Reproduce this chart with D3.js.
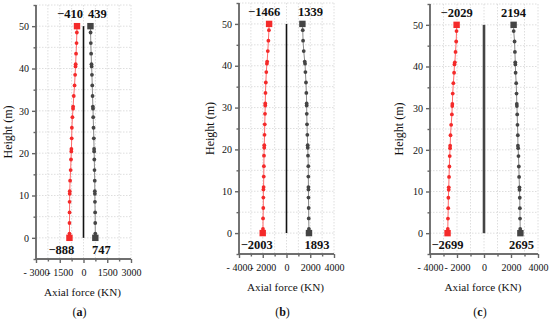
<!DOCTYPE html>
<html>
<head>
<meta charset="utf-8">
<script src="https://cdn.jsdelivr.net/npm/d3@7"></script>
<style>
  body { margin: 0; background: white; }
  svg text { font-family: "Liberation Serif", "Times New Roman", serif; fill: #111; }
</style>
</head>
<body>
<script>
// heights of the sampled points (m)
let heights = [0, 1, 3.5, 6, 8.5, 10.4, 11, 13.5, 16, 18.5, 20.4, 21, 23.5, 26, 28.5,
  30.5, 31, 33.5, 36, 38.5, 40.5, 41, 43.5, 46, 48.5, 50]

// axial force (KN), one value per height
let redA = [-888, -886, -884, -880, -878, -872, -868, -846, -812, -790, -770, -764, -745, -735, -700,
  -660, -655, -615, -565, -530, -505, -495, -470, -440, -420, -410]
let blackA = [747, 745, 740, 735, 722, 718, 715, 710, 695, 682, 672, 668, 652, 632, 612,
  600, 592, 572, 552, 532, 516, 504, 482, 462, 448, 439]
let redB = [-2003, -1980, -1975, -1955, -1950, -1945, -1930, -1915, -1905, -1895, -1875, -1870, -1850, -1830, -1810,
  -1790, -1790, -1770, -1740, -1700, -1650, -1630, -1575, -1525, -1480, -1466]
let blackB = [1893, 1888, 1872, 1865, 1850, 1848, 1845, 1840, 1836, 1810, 1790, 1783, 1755, 1728, 1705,
  1700, 1698, 1672, 1640, 1592, 1562, 1535, 1452, 1396, 1368, 1339]
let redC = [-2699, -2680, -2670, -2650, -2640, -2615, -2610, -2590, -2565, -2540, -2512, -2508, -2480, -2432, -2378,
  -2352, -2345, -2318, -2270, -2215, -2190, -2160, -2110, -2060, -2035, -2029]
let blackC = [2695, 2682, 2670, 2658, 2650, 2630, 2625, 2600, 2580, 2555, 2530, 2512, 2505, 2480, 2460,
  2436, 2430, 2410, 2385, 2340, 2322, 2315, 2290, 2265, 2200, 2194]

let xTicksA = [-3000, -1500, 0, 1500, 3000]
let xTicksBC = [-4000, -2000, 0, 2000, 4000]
let yTicks = [0, 10, 20, 30, 40, 50]
let yMinor = [-5, 5, 15, 25, 35, 45, 55]

let panels = [
  { tag: 'a', red: redA, black: blackA, ticks: xTicksA, left: 36, right: 131, top: 5, bottom: 259,
    titleX: 8, zeroW: 1.6, dx: [-7, 7, -8, 6] },
  { tag: 'b', red: redB, black: blackB, ticks: xTicksBC, left: 239, right: 334, top: 3, bottom: 254,
    titleX: 210, zeroW: 1.6, dx: [-5, 8, -6, 8] },
  { tag: 'c', red: redC, black: blackC, ticks: xTicksBC, left: 430, right: 538, top: 4, bottom: 254,
    titleX: 399, zeroW: 2.6, dx: [0, 0, 0, 1] }
]

let svg = d3.select("body").append("svg")
  .attr("width", 550)
  .attr("height", 323)

function fmt(d) {
  return d < 0 ? "- " + Math.abs(d) : d
}

function drawPanel(p) {
  let g = svg.append("g")
  let max = p.ticks[p.ticks.length - 1]
  let x = d3.scaleLinear().domain([-max, max]).range([p.left, p.right])
  let y = d3.scaleLinear().domain([-5, 55]).range([p.bottom, p.top])
  let step = p.ticks[1] - p.ticks[0]
  let xMinor = p.ticks.slice(0, -1).map(d => d + step / 2)

  // grid
  let grid = g.append("g").attr("stroke", "#d6d6d6").attr("stroke-width", 0.8)
    .attr("stroke-dasharray", "1.5,1.5")
  grid.selectAll("line.v").data(p.ticks.slice(1).concat(xMinor)).enter().append("line")
    .attr("x1", d => x(d)).attr("x2", d => x(d))
    .attr("y1", y(55)).attr("y2", y(-5))
  grid.selectAll("line.h").data(yTicks.concat(yMinor.slice(1))).enter().append("line")
    .attr("x1", x(-max)).attr("x2", x(max))
    .attr("y1", d => y(d)).attr("y2", d => y(d))

  // axes
  let xAxis = g.append("g").attr("transform", `translate(0,${p.bottom})`)
    .call(d3.axisBottom(x).tickValues(p.ticks).tickSize(4).tickPadding(6).tickFormat(fmt))
  let xAxisMinor = g.append("g").attr("transform", `translate(0,${p.bottom})`)
    .call(d3.axisBottom(x).tickValues(xMinor).tickSize(2.5).tickFormat(""))
  let yAxis = g.append("g").attr("transform", `translate(${p.left},0)`)
    .call(d3.axisLeft(y).tickValues(yTicks).tickSize(4).tickPadding(3))
  let yAxisMinor = g.append("g").attr("transform", `translate(${p.left},0)`)
    .call(d3.axisLeft(y).tickValues(yMinor).tickSize(2.5).tickFormat(""))
  for (let a of [xAxis, xAxisMinor, yAxis, yAxisMinor]) {
    a.selectAll("path, line").attr("stroke", "#666").attr("stroke-width", 1.4)
    a.select("path").attr("d", a === xAxis || a === xAxisMinor
      ? `M${p.left},0H${p.right}` : `M0,${p.top}V${p.bottom}`)
    a.selectAll("text").attr("font-size", 10).attr("font-family", "Liberation Serif").attr("fill", "#222")
  }

  // zero line
  g.append("line")
    .attr("x1", x(0)).attr("x2", x(0))
    .attr("y1", y(0)).attr("y2", y(50))
    .attr("stroke", p.tag === 'c' ? "#444" : "#111")
    .attr("stroke-width", p.zeroW)

  // series
  let series = [
    { vals: p.red, line: "#ff6a6a", fill: "#f42a2a" },
    { vals: p.black, line: "#8a8a8a", fill: "#444" }
  ]
  for (let s of series) {
    let pts = heights.map((h, i) => [s.vals[i], h])
    g.append("path")
      .datum(pts)
      .attr("fill", "none")
      .attr("stroke", s.line)
      .attr("stroke-width", 1)
      .attr("d", d3.line().x(d => x(d[0])).y(d => y(d[1])))
    g.selectAll(null).data(pts.slice(1, -1)).enter().append("circle")
      .attr("cx", d => x(d[0])).attr("cy", d => y(d[1]))
      .attr("r", 1.9)
      .attr("fill", s.fill)
    g.selectAll(null).data([pts[0], pts[pts.length - 1]]).enter().append("rect")
      .attr("x", d => x(d[0]) - 3.2).attr("y", d => y(d[1]) - 3.2)
      .attr("width", 6.4).attr("height", 6.4)
      .attr("fill", s.fill)
  }

  // end value labels
  let last = heights.length - 1
  let labels = [
    [p.red[last], 50, p.dx[0], -8],
    [p.black[last], 50, p.dx[1], -8],
    [p.red[0], 0, p.dx[2], 16],
    [p.black[0], 0, p.dx[3], 16]
  ]
  g.selectAll("text.val").data(labels).enter().append("text")
    .attr("x", d => x(d[0]) + d[2])
    .attr("y", d => y(d[1]) + d[3])
    .attr("text-anchor", "middle")
    .attr("font-size", 12.5)
    .attr("font-weight", "bold")
    .text(d => d[0] < 0 ? "\u2212" + Math.abs(d[0]) : d[0])

  // titles
  g.append("text")
    .attr("transform", `translate(${p.titleX},${(p.top + p.bottom) / 2}) rotate(-90)`)
    .attr("dy", "0.35em")
    .attr("text-anchor", "middle")
    .attr("font-size", 12)
    .text("Height (m)")
  g.append("text")
    .attr("x", (p.left + p.right) / 2 - 1)
    .attr("y", p.bottom + 37)
    .attr("text-anchor", "middle")
    .attr("font-size", 11.2)
    .text("Axial force (KN)")
  let cap = g.append("text")
    .attr("x", (p.left + p.right) / 2 - 4)
    .attr("y", 316)
    .attr("text-anchor", "middle")
    .attr("font-size", 12)
  cap.append("tspan").text("(")
  cap.append("tspan").attr("font-weight", "bold").text(p.tag)
  cap.append("tspan").text(")")
}

panels.forEach(drawPanel)
</script>
</body>
</html>
